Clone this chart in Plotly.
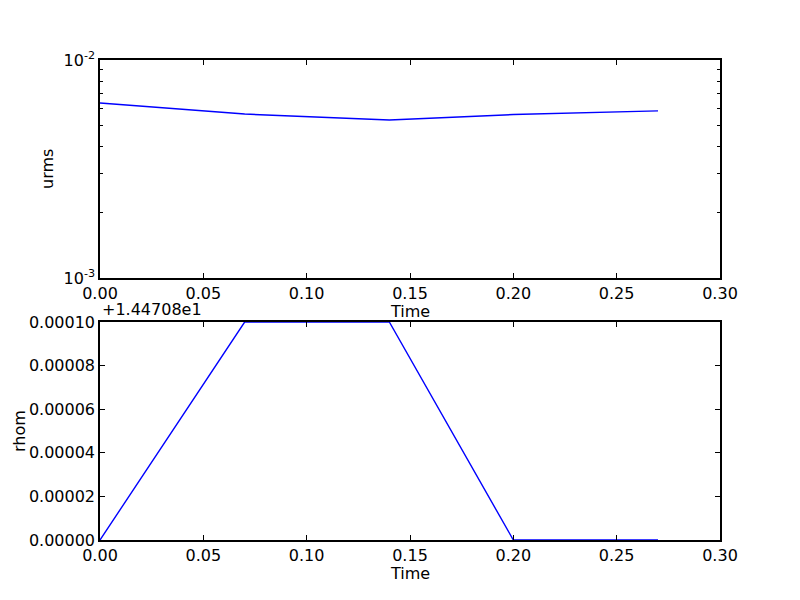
import plotly.graph_objects as go

time = [0.0, 0.07, 0.14, 0.20, 0.27]
urms = [0.00635, 0.00565, 0.00531, 0.00562, 0.00584]
rhom_offset = 14.4708
rhom_rel = [0.0, 0.0001, 0.0001, 0.0, 0.0]

x_ticks = [0.0, 0.05, 0.10, 0.15, 0.20, 0.25, 0.30]
x_ticktext = ["0.00", "0.05", "0.10", "0.15", "0.20", "0.25", "0.30"]
urms_ticks = [0.001, 0.01]
urms_ticktext = ["10<sup>-3</sup>", "10<sup>-2</sup>"]
rhom_ticks = [0.0, 0.00002, 0.00004, 0.00006, 0.00008, 0.0001]
rhom_ticktext = ["0.00000", "0.00002", "0.00004", "0.00006", "0.00008", "0.00010"]

FONT = "DejaVu Sans"
fig = go.Figure()
fig.add_trace(go.Scatter(x=time, y=urms, mode="lines", line=dict(color="#0000ff", width=1.4),
                         xaxis="x", yaxis="y", showlegend=False))
fig.add_trace(go.Scatter(x=time, y=rhom_rel, mode="lines", line=dict(color="#0000ff", width=1.4),
                         xaxis="x2", yaxis="y2", showlegend=False, cliponaxis=False))

axis_common = dict(showgrid=False, zeroline=False, showline=True, linecolor="black", linewidth=1.5,
                   mirror="allticks", ticks="inside", ticklen=5, tickcolor="black", tickwidth=1,
                   tickfont=dict(family=FONT, size=16, color="black"))

top_lo = (540 - 278) / 480
bot_hi = (540 - 322) / 480

fig.update_layout(
    width=800, height=600,
    margin=dict(l=92, r=88, t=52, b=68),
    paper_bgcolor="white", plot_bgcolor="white",
    font=dict(family=FONT, size=16, color="black"),
    xaxis=dict(axis_common, domain=[0, 1], anchor="y", range=[0, 0.3],
               tickvals=x_ticks, ticktext=x_ticktext),
    yaxis=dict(axis_common, domain=[top_lo, 1], anchor="x", type="log", range=[-3, -2],
               tickvals=urms_ticks, ticktext=urms_ticktext,
               minor=dict(ticks="inside", ticklen=3, tickcolor="black", tickwidth=1,
                          tickvals=[0.002, 0.003, 0.004, 0.005, 0.006, 0.007, 0.008, 0.009])),
    xaxis2=dict(axis_common, domain=[0, 1], anchor="y2", range=[0, 0.3],
                tickvals=x_ticks, ticktext=x_ticktext),
    yaxis2=dict(axis_common, domain=[0, bot_hi], anchor="x2", range=[0, 0.0001],
                tickvals=rhom_ticks, ticktext=rhom_ticktext),
    annotations=[
        dict(text="urms", xref="paper", yref="paper", x=-53/620, y=(top_lo + 1) / 2,
             xanchor="center", yanchor="middle", textangle=-90, showarrow=False,
             font=dict(family=FONT, size=16)),
        dict(text="rhom", xref="paper", yref="paper", x=-81/620, y=bot_hi / 2,
             xanchor="center", yanchor="middle", textangle=-90, showarrow=False,
             font=dict(family=FONT, size=16)),
        dict(text="Time", xref="paper", yref="paper", x=0.5, y=(540 - 311) / 480,
             xanchor="center", yanchor="middle", showarrow=False, font=dict(family=FONT, size=16)),
        dict(text="Time", xref="paper", yref="paper", x=0.5, y=(540 - 573) / 480,
             xanchor="center", yanchor="middle", showarrow=False, font=dict(family=FONT, size=16)),
        dict(text="+1.44708e1", xref="paper", yref="paper", x=0, y=bot_hi,
             xanchor="left", yanchor="bottom", yshift=1, showarrow=False,
             font=dict(family=FONT, size=16)),
    ],
)

fig.write_html("out.html")
